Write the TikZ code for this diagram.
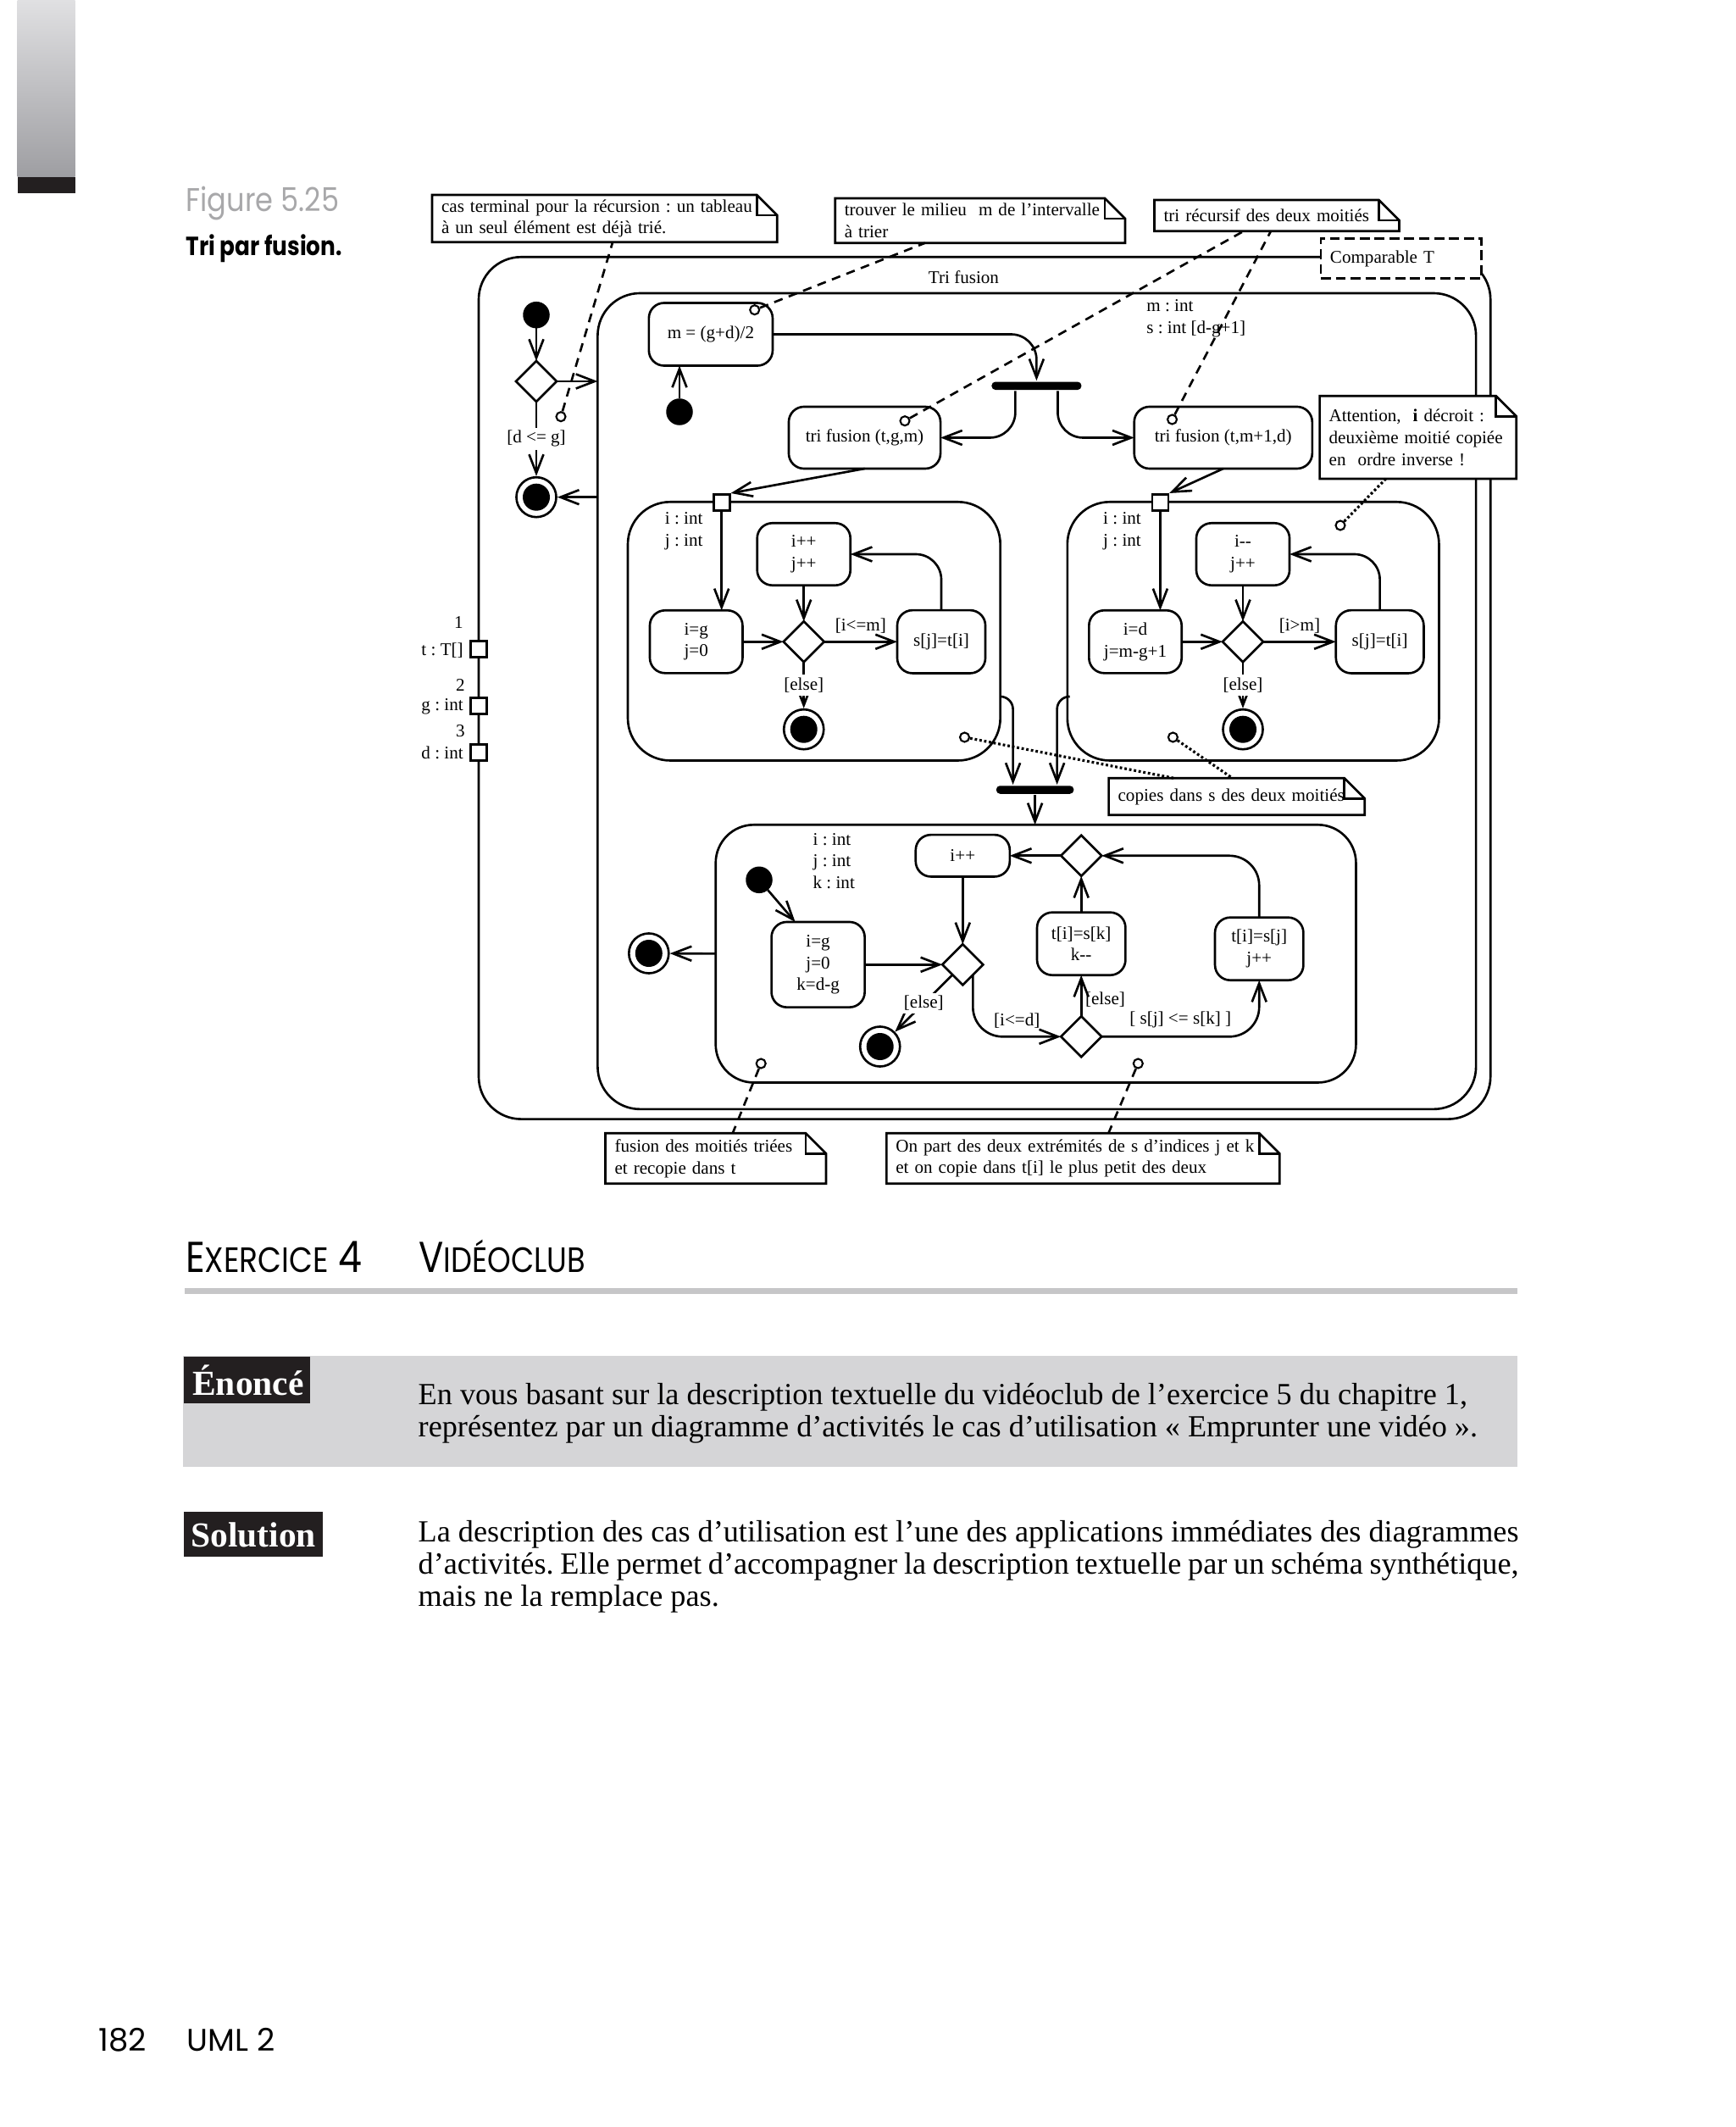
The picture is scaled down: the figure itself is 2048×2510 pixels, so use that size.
\documentclass[tikz,border=0pt]{standalone}
\usepackage{fontspec}
\setmainfont{Liberation Serif}
\newfontfamily\futura{Poppins}
\usetikzlibrary{arrows.meta,shapes.geometric}
\definecolor{figgray}{RGB}{168,168,170}
\definecolor{rulegray}{RGB}{198,198,200}
\definecolor{boxgray}{RGB}{213,213,215}
\definecolor{inkblack}{RGB}{35,31,32}
\definecolor{bartop}{RGB}{224,224,226}
\definecolor{barbottom}{RGB}{158,158,162}
\newcommand\dsize{\fontsize{6pt}{7.3pt}\selectfont}
\newcommand\bodysize{\fontsize{10.3pt}{11pt}\selectfont}
\newcommand\notefold[1]{%
  \draw (#1.south west) -- (#1.north west) -- ([xshift=-2.4mm]#1.north east) -- ([yshift=-2.4mm]#1.north east) -- (#1.south east) -- cycle;
  \draw ([xshift=-2.4mm]#1.north east) |- ([yshift=-2.4mm]#1.north east);}
\tikzset{
  activity/.style={draw, anchor=north west, inner sep=0pt, outer sep=0pt},
  action/.style={draw, rounded corners=1.8mm, align=center, inner sep=0pt, outer sep=0pt},
  decision/.style={draw, diamond, fill=white, minimum width=4.8mm, minimum height=4.8mm, inner sep=0pt, outer sep=0pt},
  initnode/.style={circle, fill, minimum size=3.15mm, inner sep=0pt, outer sep=0pt},
  finalnode/.style={circle, draw, fill=white, minimum size=4.7mm, inner sep=0pt, path picture={\fill[black] (path picture bounding box.center) circle (1.6mm);}},
  port/.style={draw, fill=white, minimum size=1.9mm, inner sep=0pt},
  syncbar/.style={fill, rounded corners=0.45mm, minimum height=0.95mm, inner sep=0pt},
  notepin/.style={circle, draw, fill=white, minimum size=1.1mm, inner sep=0pt, line width=0.6pt},
  notebox/.style={fill=white, anchor=north west, align=left, inner xsep=1.1mm, inner ysep=0pt, outer sep=0pt},
  guard/.style={inner sep=1pt},
  flow/.style={-{Straight Barb[length=2.2mm,width=1.7mm]}},
  notelink/.style={dash pattern=on 3pt off 2.2pt},
  dotlink/.style={dash pattern=on 0.8pt off 0.8pt, line width=0.9pt},
  decl/.style={anchor=west, align=left, inner sep=0pt}
}
\begin{document}
\frenchspacing
\begin{tikzpicture}[x=0.01cm, y=-0.01cm, line width=0.75pt, font=\dsize]
\useasboundingbox (0,0) rectangle (2048,2510);
\shade[top color=bartop, bottom color=barbottom] (20.7,0) rectangle (88.7,209);
\fill[inkblack] (20.7,209) rectangle (88.7,228);
\node[anchor=base west, inner sep=0pt, text=figgray, font=\futura\fontsize{11}{13}\selectfont] (figno) at (218.3,249.3) {\scalebox{0.87}[1]{Figure 5.25}};
\node[anchor=base west, inner sep=0pt, font=\futura\bfseries\fontsize{8.8}{10}\selectfont] (figtitle) at (218.3,301.7) {\scalebox{0.85}[1]{Tri par fusion.}};

\node[activity, rounded corners=5mm, minimum width=119.35mm, minimum height=101.67mm] (trifusion) at (565,303.3) {};
\node[activity, rounded corners=5mm, minimum width=103.61mm, minimum height=96.23mm] (body) at (705.4,346) {};
\node (title) at (1137.5,326.7) {Tri fusion};
\node[draw, fill=white, dash pattern=on 3.4pt off 1.6pt, anchor=north west, align=left, text width=16.77mm, inner xsep=1.1mm, inner ysep=0pt, minimum height=4.73mm] (tparam) at (1557.6,280) {Comparable T};

\node[port] (pt) at (565,766) {};
\node[port] (pg) at (565,833.3) {};
\node[port] (pd) at (565,888.3) {};
\node[anchor=east, inner sep=0pt] (nt) at (548,735) {1};
\node[anchor=east, inner sep=0pt] (lt) at (548,767.7) {t : T[]};
\node[anchor=east, inner sep=0pt] (ng) at (550,808.3) {2};
\node[anchor=east, inner sep=0pt] (lg) at (548,833.3) {g : int};
\node[anchor=east, inner sep=0pt] (nd) at (550,862.7) {3};
\node[anchor=east, inner sep=0pt] (ld) at (548,888.3) {d : int};

\node[initnode] (s0) at (633,371.7) {};
\node[decision] (d0) at (633,450) {};
\node[finalnode] (f0) at (633,586.7) {};
\node[notepin] (hd) at (662,491.7) {};
\draw[flow] (s0) -- (d0);
\draw[flow] (d0) -- (d0 -| body.west);
\draw[flow] (d0) -- node[guard, fill=white] (gdg) {[d <= g]} (f0);
\draw[flow] (f0 -| body.west) -- (f0);

\node[action, minimum width=14.6mm, minimum height=7.4mm] (mid) at (838.9,394.5) {m = (g+d)/2};
\node[initnode] (s1) at (802,486) {};
\node[notepin] (hm) at (890.7,365.7) {};
\node[syncbar, minimum width=10.6mm] (fork) at (1223.4,455.3) {};
\node[action, minimum width=17.9mm, minimum height=7.3mm] (tfa) at (1020.5,516.5) {tri fusion (t,g,m)};
\node[action, minimum width=21mm, minimum height=7.3mm] (tfb) at (1443.75,516.5) {tri fusion (t,m+1,d)};
\node[notepin] (hta) at (1068,496.7) {};
\node[notepin] (htb) at (1383.5,495) {};
\node[decl] (mdecl) at (1352,376) {m : int\\s : int [d-g+1]};
\draw[flow] (s1) -- (s1 |- mid.south);
\draw[flow, rounded corners=3mm] (mid) -| (fork);
\draw[flow, rounded corners=3mm] ([xshift=-2.5mm]fork.south) |- (tfa);
\draw[flow, rounded corners=3mm] ([xshift=2.5mm]fork.south) |- (tfb);

\begin{scope}[shift={(741,592.3)}]
\node[activity, rounded corners=5mm, minimum width=43.94mm, minimum height=30.5mm] (lcopy) at (0,0) {};
\node[port] (pa) at (110.7,0.5) {};
\node[decl] (ldecl) at (42.6,34.2) {i : int\\j : int};
\node[action, minimum width=11mm, minimum height=7.34mm] (linc) at (207.7,61.7) {i++\\j++};
\node[action, minimum width=10.94mm, minimum height=7.4mm] (linit) at (80.7,165) {i=g\\j=0};
\node[decision] (ldec) at (207.7,165) {};
\node[action, minimum width=10.4mm, minimum height=7.43mm] (lcopyact) at (370,165) {s[j]=t[i]};
\node[finalnode] (lend) at (207.7,268.4) {};
\node[notepin] (hl) at (397.5,277.7) {};
\end{scope}
\draw[flow] (tfa.south) -- (pa.north east);
\draw[flow] (pa) -- (pa |- linit.north);
\draw[flow] (linc) -- (ldec);
\draw[flow] (linit) -- (ldec);
\draw[flow] (ldec) -- node[guard, above=1.5pt] (lgt) {[i<=m]} (lcopyact);
\draw[flow, rounded corners=3mm] (lcopyact) |- (linc);
\draw[flow] (ldec) -- node[guard, fill=white] (lgel) {[else]} (lend);

\begin{scope}[shift={(1259.8,592.3)}]
\node[activity, rounded corners=5mm, minimum width=43.84mm, minimum height=30.5mm] (rcopy) at (0,0) {};
\node[port] (pb) at (109.6,0.5) {};
\node[decl] (rdecl) at (41.1,34.2) {i : int\\j : int};
\node[action, minimum width=11mm, minimum height=7.34mm] (rinc) at (207.2,61.7) {i-{}-\\j++};
\node[action, minimum width=10.93mm, minimum height=7.4mm] (rinit) at (80.2,165) {i=d\\j=m-g+1};
\node[decision] (rdec) at (207.2,165) {};
\node[action, minimum width=10.36mm, minimum height=7.43mm] (rcopyact) at (368.8,165) {s[j]=t[i]};
\node[finalnode] (rend) at (207.2,268.4) {};
\node[notepin] (hr) at (124.6,277.7) {};
\node[notepin] (hatt) at (322.2,27.7) {};
\end{scope}
\draw[flow] (tfb.south) -- (pb.north east);
\draw[flow] (pb) -- (pb |- rinit.north);
\draw[flow] (rinc) -- (rdec);
\draw[flow] (rinit) -- (rdec);
\draw[flow] (rdec) -- node[guard, above=1.5pt] (rgt) {[i>m]} (rcopyact);
\draw[flow, rounded corners=3mm] (rcopyact) |- (rinc);
\draw[flow] (rdec) -- node[guard, fill=white] (rgel) {[else]} (rend);

\node[syncbar, minimum width=9.15mm] (join) at (1221.6,932) {};
\draw[flow, rounded corners=1.5mm] ([yshift=-7.7mm]lcopy.east) -| ([xshift=-2.6mm]join.north);
\draw[flow, rounded corners=1.5mm] ([yshift=-7.7mm]rcopy.west) -| ([xshift=2.6mm]join.north);

\begin{scope}[shift={(844.7,973.3)}]
\node[activity, rounded corners=4.5mm, minimum width=75.53mm, minimum height=30.4mm] (merge) at (0,0) {};
\node[initnode] (s2) at (51.3,65) {};
\node[decl] (mdecl2) at (113.6,42.7) {i : int\\j : int\\k : int};
\node[action, minimum width=11mm, minimum height=10.06mm] (minit) at (120.9,165) {i=g\\j=0\\k=d-g};
\node[action, minimum width=11.1mm, minimum height=4.93mm] (minc) at (291.6,36.5) {i++};
\node[decision] (mtest) at (291.6,165) {};
\node[finalnode] (mend) at (194,261.7) {};
\node[decision] (mcmp) at (431.5,250) {};
\node[action, minimum width=10.43mm, minimum height=7.4mm] (mtk) at (431.5,140.4) {t[i]=s[k]\\k-{}-};
\node[decision] (mjoin) at (431.5,36.5) {};
\node[action, minimum width=10.43mm, minimum height=7.4mm] (mtj) at (641.5,146.4) {t[i]=s[j]\\j++};
\node[notepin] (hb1) at (53.5,281.7) {};
\node[notepin] (hb2) at (498.6,281.7) {};
\end{scope}
\draw[flow] (join) -- (join |- merge.north);
\draw[flow] (s2) -- ([xshift=2.8mm]minit.north west);
\draw[flow] (minc) -- (mtest);
\draw[flow] (minit) -- (mtest);
\draw[flow] (mtest.south west) -- node[guard, fill=white] (mgel) {[else]} (mend);
\draw[flow, rounded corners=3.5mm] (mtest.south east) |- node[guard, pos=0.75, above=1.5pt] (mgle) {[i<=d]} (mcmp);
\draw[flow] (mcmp) -- node[guard, right, pos=0.4] (mgel2) {[else]} (mtk);
\draw[flow] (mtk) -- (mjoin);
\draw[flow] (mjoin) -- (minc);
\draw[flow, rounded corners=3.5mm] (mcmp) -| node[guard, pos=0.25, above=1.5pt] (mgsj) {[ s[j] <= s[k] ]} (mtj);
\draw[flow, rounded corners=3.5mm] (mtj) |- (mjoin);
\node[finalnode] (fin) at (765.8,1125) {};
\draw[flow] (merge.west) -- (fin);

\node[notebox, text width=38.5mm, minimum height=5.57mm] (nterm) at (510,230) {cas terminal pour la récursion : un tableau\\à un seul élément est déjà trié.};
\notefold{nterm}
\node[notebox, text width=32mm, minimum height=5.27mm] (nmil) at (985.8,234) {trouver le milieu\ \ m de l’intervalle\\à trier};
\notefold{nmil}
\node[notebox, text width=26.68mm, minimum height=3.67mm] (nrec) at (1362.5,236) {tri récursif des deux moitiés};
\notefold{nrec}
\node[notebox, text width=21mm, minimum height=9.77mm] (natt) at (1557.6,467.3) {Attention,\ \ \textbf{i} décroit :\\deuxième moitié copiée\\en\ \ ordre inverse !};
\notefold{natt}
\node[notebox, text width=28mm, minimum height=4.34mm] (ncp) at (1308.6,918.3) {copies dans s des deux moitiés};
\notefold{ncp}
\node[notebox, text width=23.83mm, minimum height=5.94mm] (nf) at (714.5,1337.3) {fusion des moitiés triées\\et recopie dans t};
\notefold{nf}
\node[notebox, text width=44.17mm, minimum height=5.94mm] (no) at (1046.3,1337.3) {On part des deux extrémités de s d’indices j et k\\et on copie dans t[i] le plus petit des deux};
\notefold{no}

\draw[notelink] (hd) -- ([xshift=0.95mm]nterm.south);
\draw[notelink] (hm) -- ([xshift=-6.5mm]nmil.south);
\draw[notelink] (hta) -- ([xshift=-3.9mm]nrec.south);
\draw[notelink] (htb) -- ([xshift=-0.7mm]nrec.south);
\draw[dotlink] (hatt) -- ([xshift=-3.8mm]natt.south);
\draw[dotlink] (hl) -- ([xshift=-7.4mm]ncp.north);
\draw[dotlink] (hr) -- ([xshift=-0.5mm]ncp.north);
\draw[notelink] (hb1) -- ([xshift=2mm]nf.north);
\draw[notelink] (hb2) -- ([xshift=3mm]no.north);

\node[anchor=base west, inner sep=0pt, font=\futura] (exno) at (217.8,1501.7) {\scalebox{0.87}[1]{\fontsize{14.5}{16}\selectfont E\fontsize{11.8}{14}\selectfont XERCICE\fontsize{14.5}{16}\selectfont\ 4}};
\node[anchor=base west, inner sep=0pt, font=\futura] (extitle) at (493,1501.7) {\scalebox{0.85}[1]{\fontsize{14.5}{16}\selectfont V\fontsize{11.8}{14}\selectfont IDÉOCLUB}};
\fill[rulegray] (217.8,1520) rectangle (1791,1527.3);
\fill[boxgray] (216,1599.5) rectangle (1791,1730.5);
\fill[inkblack] (217,1601) rectangle (365.5,1656);
\node[anchor=base west, inner sep=0pt, text=white, font=\bfseries\fontsize{11.8}{13}\selectfont] (enlabel) at (226,1646) {Énoncé};
\node[anchor=base west, inner sep=0pt, font=\bodysize] (en1) at (492.4,1657) {En vous basant sur la description textuelle du vidéoclub de l’exercice 5 du chapitre 1,};
\node[anchor=base west, inner sep=0pt, font=\bodysize] (en2) at (492.4,1695) {représentez par un diagramme d’activités le cas d’utilisation «~Emprunter une vidéo~».};
\fill[inkblack] (217,1783.5) rectangle (381,1837.3);
\node[anchor=base west, inner sep=0pt, text=white, font=\bfseries\fontsize{11.8}{13}\selectfont] (sollabel) at (224,1825) {Solution};
\node[anchor=base west, inner sep=0pt, font=\bodysize] (sol1) at (492.4,1819.3) {\makebox[129.8mm][s]{La description des cas d’utilisation est l’une des applications immédiates des diagrammes}};
\node[anchor=base west, inner sep=0pt, font=\bodysize] (sol2) at (492.4,1857) {\makebox[129.8mm][s]{d’activités. Elle permet d’accompagner la description textuelle par un schéma synthétique,}};
\node[anchor=base west, inner sep=0pt, font=\bodysize] (sol3) at (492.4,1895) {mais ne la remplace pas.};
\node[anchor=base west, inner sep=0pt, font=\futura\fontsize{10.5}{12}\selectfont] (pgno) at (115,2420) {182};
\node[anchor=base west, inner sep=0pt, font=\futura\fontsize{10.5}{12}\selectfont] (runhead) at (219.3,2420) {UML 2};
\end{tikzpicture}
\end{document}
